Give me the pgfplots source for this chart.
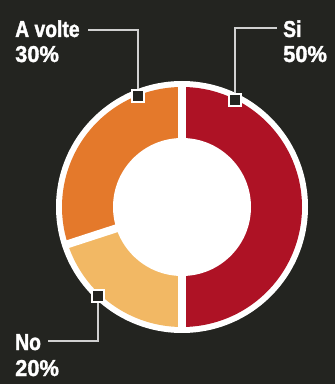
\documentclass[border=0pt]{standalone}
\usepackage{pgfplots}
\pgfplotsset{compat=1.18}
\usepackage{fontspec}
\setmainfont{Liberation Sans}
\newfontfamily\labfont{Liberation Sans}[UprightFont=* Bold, FakeStretch=0.84, FakeBold=1.5]
\newfontfamily\numfont{Liberation Sans}[UprightFont=* Bold, FakeStretch=0.95, FakeBold=1.5]
\definecolor{bg}{HTML}{232420}
\definecolor{cRed}{HTML}{AE1225}
\definecolor{cOrange}{HTML}{E4792B}
\definecolor{cLight}{HTML}{F2B864}
\definecolor{lead}{HTML}{D0D0D0}
\begin{document}
\begin{tikzpicture}
% slice values (percent), drawn clockwise from the top: Si, No, A volte
\def\vSi{50}\def\vNo{20}\def\vAv{30}
\pgfmathsetmacro\aA{90}
\pgfmathsetmacro\aB{\aA-3.6*\vSi}
\pgfmathsetmacro\aC{\aB-3.6*\vNo}
\pgfmathsetmacro\aD{\aC-3.6*\vAv}
\begin{axis}[x=1pt,y=1pt,xmin=0,xmax=335,ymin=0,ymax=384,
  scale only axis, hide axis, clip=false]
\fill[bg] (axis cs:0,0) rectangle (axis cs:335,384);
\fill[white] (axis cs:182,177) circle[radius=126pt];
\fill[cRed] (axis cs:182,177) -- (axis cs:{182+120*cos(\aA)},{177+120*sin(\aA)}) arc[start angle=\aA, end angle=\aB, radius=120pt] -- cycle;
\fill[cLight] (axis cs:182,177) -- (axis cs:{182+120*cos(\aB)},{177+120*sin(\aB)}) arc[start angle=\aB, end angle=\aC, radius=120pt] -- cycle;
\fill[cOrange] (axis cs:182,177) -- (axis cs:{182+120*cos(\aC)},{177+120*sin(\aC)}) arc[start angle=\aC, end angle=\aD, radius=120pt] -- cycle;
\draw[white, line width=8pt] (axis cs:182,177) -- (axis cs:{182+124*cos(\aA)},{177+124*sin(\aA)});
\draw[white, line width=8pt] (axis cs:182,177) -- (axis cs:{182+124*cos(\aB)},{177+124*sin(\aB)});
\draw[white, line width=8pt] (axis cs:182,177) -- (axis cs:{182+124*cos(\aC)},{177+124*sin(\aC)});
\fill[white] (axis cs:182,177) circle[radius=69pt];
% leader lines
\addplot[lead, line width=1.2pt, sharp corners] coordinates {(88,354) (138,354) (138,288)};
\addplot[lead, line width=1.2pt, sharp corners] coordinates {(277,356) (235,356) (235,284)};
\addplot[lead, line width=1.2pt, sharp corners] coordinates {(48,43) (98,43) (98,88)};
\addplot[only marks, mark=square*, mark size=6pt,
  mark options={fill=bg, draw=white, line width=2pt, rounded corners=2.5pt}]
  coordinates {(138,288) (235,284) (98,88)};
% labels
\node[anchor=base west, white, inner sep=0pt] at (axis cs:15,347) {\labfont\fontsize{23}{23}\selectfont A volte};
\node[anchor=base west, white, inner sep=0pt] at (axis cs:15,322) {\numfont\fontsize{23}{23}\selectfont 30\%};
\node[anchor=base west, white, inner sep=0pt] at (axis cs:283,347) {\labfont\fontsize{23}{23}\selectfont Si};
\node[anchor=base west, white, inner sep=0pt] at (axis cs:283,322) {\numfont\fontsize{23}{23}\selectfont 50\%};
\node[anchor=base west, white, inner sep=0pt] at (axis cs:15,34) {\labfont\fontsize{23}{23}\selectfont No};
\node[anchor=base west, white, inner sep=0pt] at (axis cs:15,8) {\numfont\fontsize{23}{23}\selectfont 20\%};
\end{axis}
\end{tikzpicture}
\end{document}
